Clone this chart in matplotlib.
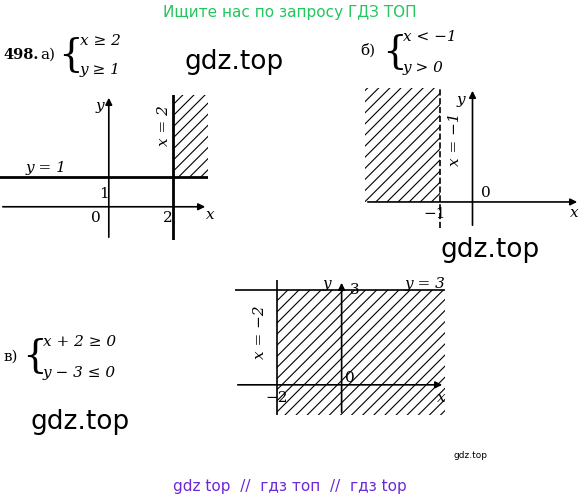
import numpy as np
import matplotlib.pyplot as plt

W, H = 579, 501

# plot a: x >= 2, y >= 1
a_xlim = (-3.4, 3.1)
a_ylim = (-1.1, 3.7)
a_xb, a_yb = 2, 1

# plot b: x < -1, y > 0
b_xlim = (-3.3, 3.3)
b_ylim = (-0.8, 3.5)
b_xb, b_yb = -1, 0

# plot c: x >= -2, y <= 3
c_xlim = (-3.3, 3.2)
c_ylim = (-0.95, 3.3)
c_xb, c_yb = -2, 3

fig = plt.figure(figsize=(W / 100, H / 100), dpi=100)
plt.rcParams['hatch.linewidth'] = 0.8


def make_ax(x0, y0, x1, y1):
    # pixel box (top-left origin) -> figure fraction
    ax = fig.add_axes([x0 / W, 1 - y1 / H, (x1 - x0) / W, (y1 - y0) / H])
    ax.set_axis_off()
    return ax


def axes_lines(ax, xlim, ylim):
    ax.annotate('', xy=(xlim[1], 0), xytext=(xlim[0], 0),
                arrowprops=dict(arrowstyle='-|>', color='black', lw=1.2, mutation_scale=10))
    ax.annotate('', xy=(0, ylim[1]), xytext=(0, ylim[0]),
                arrowprops=dict(arrowstyle='-|>', color='black', lw=1.2, mutation_scale=10))
    ax.set_xlim(xlim)
    ax.set_ylim(ylim)


tf = dict(fontsize=11, family='DejaVu Serif', style='italic')
nf = dict(fontsize=11, family='DejaVu Serif')
hatch = '///'

# --- a
ax = make_ax(0, 95, 208, 240)
ax.fill_between([a_xb, a_xlim[1]], a_yb, a_ylim[1], facecolor='none', hatch=hatch, edgecolor='black', lw=0)
axes_lines(ax, a_xlim, a_ylim)
ax.axhline(a_yb, color='black', lw=2)
ax.axvline(a_xb, color='black', lw=2)
ax.text(-2.6, 1.15, 'y = 1', **tf)
ax.text(1.5, 2.1, 'x = 2', rotation=90, **tf)
ax.text(-0.3, 0.3, '1', **nf)
ax.text(-0.55, -0.5, '0', **nf)
ax.text(1.7, -0.5, '2', **nf)
ax.text(3.05, -0.4, 'x', **tf)
ax.text(-0.4, 3.2, 'y', **tf)

# --- b
ax = make_ax(365, 88, 580, 228)
ax.fill_between([b_xlim[0], b_xb], b_yb, b_ylim[1], facecolor='none', hatch=hatch, edgecolor='black', lw=0)
axes_lines(ax, b_xlim, b_ylim)
ax.axvline(b_xb, color='black', lw=1.2, ls='--')
ax.text(-0.75, 1.2, 'x = −1', rotation=90, **tf)
ax.text(0.25, 0.15, '0', **nf)
ax.text(-1.5, -0.5, '−1', **nf)
ax.text(3.0, -0.45, 'x', **tf)
ax.text(-0.5, 3.0, 'y', **tf)

# --- c
ax = make_ax(235, 280, 445, 415)
ax.fill_between([c_xb, c_xlim[1]], c_ylim[0], c_yb, facecolor='none', hatch=hatch, edgecolor='black', lw=0)
axes_lines(ax, c_xlim, c_ylim)
ax.axhline(c_yb, color='black', lw=1.2)
ax.axvline(c_xb, color='black', lw=1.2)
ax.text(1.95, 3.05, 'y = 3', **tf)
ax.text(0.25, 2.85, '3', **nf)
ax.text(-2.75, 0.9, 'x = −2', rotation=90, **tf)
ax.text(0.1, 0.1, '0', **nf)
ax.text(-2.35, -0.55, '−2', **nf)
ax.text(2.95, -0.55, 'x', **tf)
ax.text(-0.6, 3.05, 'y', **tf)

# --- text overlay
tx = fig.add_axes([0, 0, 1, 1])
tx.set_xlim(0, W)
tx.set_ylim(H, 0)
tx.set_axis_off()
tx.text(290, 12, 'Ищите нас по запросу ГДЗ ТОП', color='#22c55e', fontsize=11, ha='center', va='center')
tx.text(3, 55, '498.', fontsize=10.5, fontweight='bold', family='DejaVu Serif', va='center')
tx.text(40, 55, 'а)', va='center', **nf)
tx.text(58, 55, '{', fontsize=28, va='center', family='DejaVu Serif')
tx.text(80, 41, 'x ≥ 2', va='center', **tf)
tx.text(80, 70, 'y ≥ 1', va='center', **tf)
tx.text(360, 50, 'б)', va='center', **nf)
tx.text(382, 52, '{', fontsize=28, va='center', family='DejaVu Serif')
tx.text(403, 37, 'x < −1', va='center', **tf)
tx.text(403, 68, 'y > 0', va='center', **tf)
tx.text(4, 357, 'в)', va='center', **nf)
tx.text(22, 357, '{', fontsize=28, va='center', family='DejaVu Serif')
tx.text(43, 342, 'x + 2 ≥ 0', va='center', **tf)
tx.text(43, 373, 'y − 3 ≤ 0', va='center', **tf)
tx.text(234, 62, 'gdz.top', fontsize=19, ha='center', va='center')
tx.text(490, 250, 'gdz.top', fontsize=19, ha='center', va='center')
tx.text(80, 422, 'gdz.top', fontsize=19, ha='center', va='center')
tx.text(470, 456, 'gdz.top', fontsize=6.5, ha='center', va='center')
tx.text(290, 487, 'gdz top  //  гдз топ  //  гдз top', color='#6d28d9', fontsize=11, ha='center', va='center')

fig.savefig('out.png', dpi=100)
